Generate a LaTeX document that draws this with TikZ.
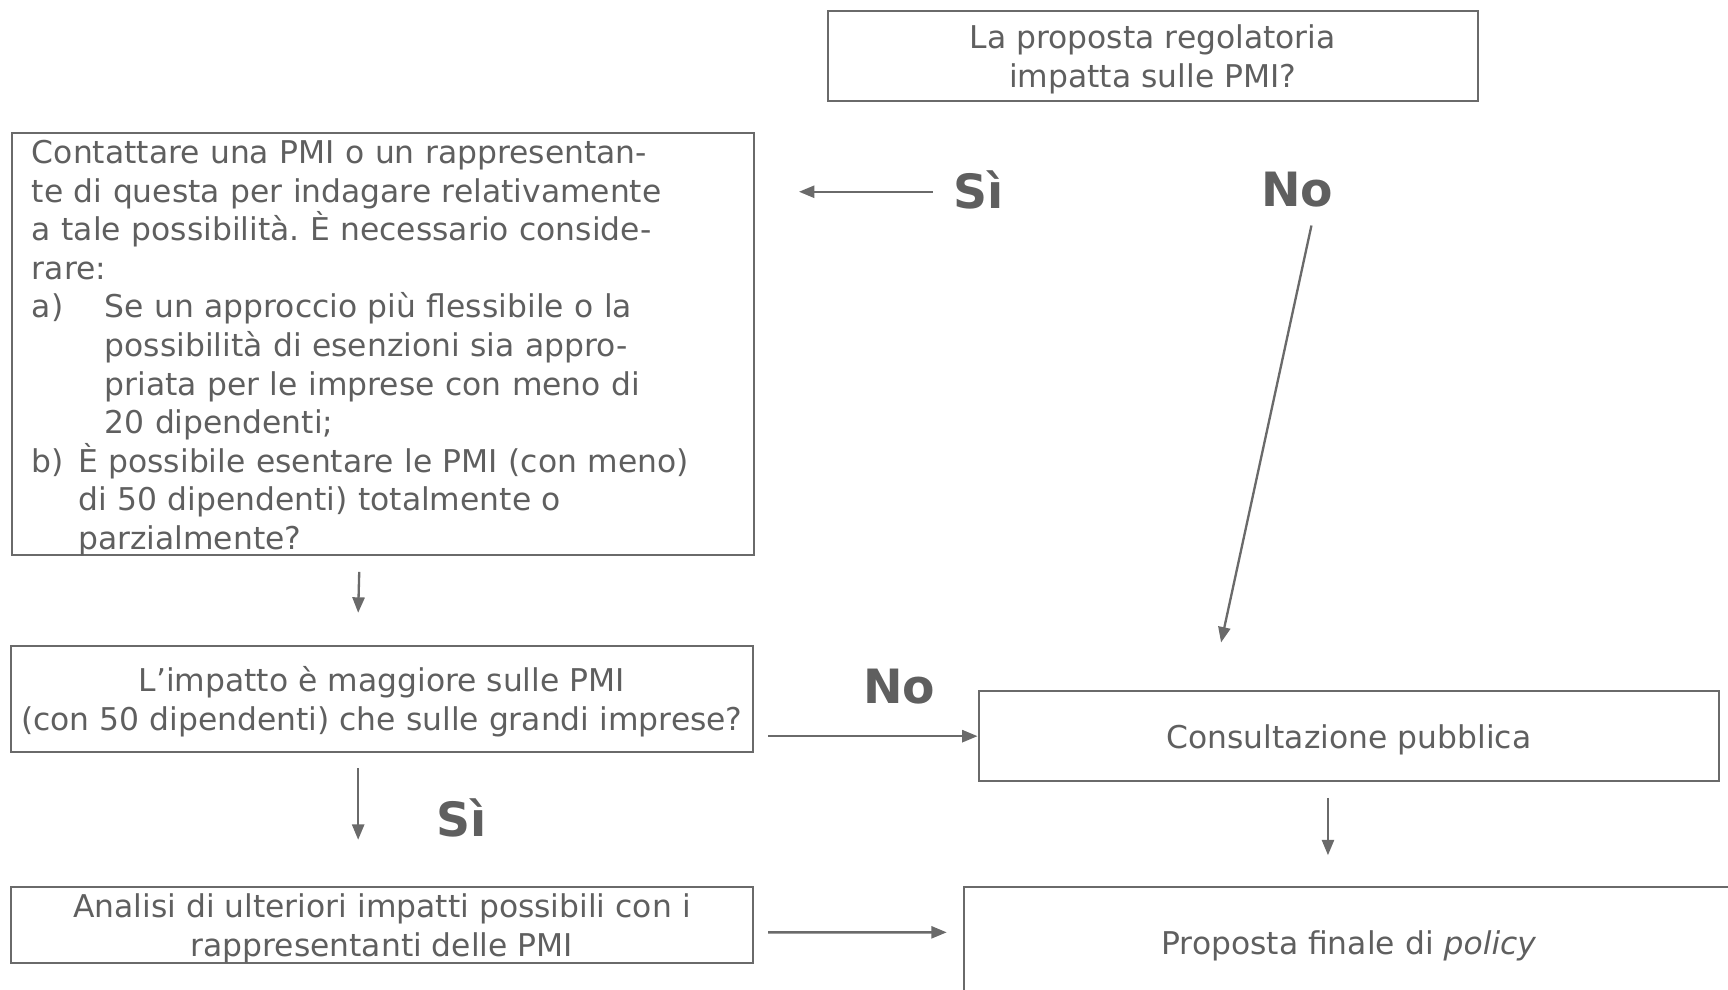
\documentclass[tikz,border=0pt]{standalone}
\usepackage{fontspec}
\setmainfont{DejaVu Sans}
\usepackage{xcolor}
\usetikzlibrary{arrows.meta,calc}
\definecolor{boxgray}{HTML}{6A6A6A}
\definecolor{txtgray}{HTML}{5F5F5F}
\frenchspacing

\begin{document}
\begin{tikzpicture}[
    box/.style={draw=boxgray, line width=0.55pt, text=txtgray, inner sep=0pt,
        font=\fontsize{8.1}{9.96}\selectfont, align=center},
    flat/.style={box, text depth=0pt},
    answer/.style={text=txtgray, inner sep=0pt, font=\fontsize{12.2}{14}\selectfont\bfseries},
    arr/.style={draw=boxgray, line width=0.6pt, -{Triangle[length=1.4mm,width=1.1mm]}}
]
    \useasboundingbox (0,0) rectangle (15.68,-8.98);

    % Boxes
    \node[flat, minimum width=5.90cm, minimum height=0.82cm] (regola) at (10.46,-0.51)
        {La proposta regolatoria\\impatta sulle PMI?};
    \node[box, anchor=north west, minimum width=6.73cm, minimum height=3.83cm,
        text width=6.37cm, text depth=99.3pt, inner xsep=0.18cm, align=left] (contatto) at (0.10,-1.20)
        {Contattare una PMI o un rappresentan-\\
         te di questa per indagare relativamente\\
         a tale possibilità. È necessario conside-\\
         rare:\\
         \makebox[0.66cm][l]{a)}Se un approccio più flessibile o la\\
         \hspace*{0.66cm}possibilità di esenzioni sia appro-\\
         \hspace*{0.66cm}priata per le imprese con meno di\\
         \hspace*{0.66cm}20 dipendenti;\\
         \makebox[0.42cm][l]{b)}È possibile esentare le PMI (con meno)\\
         \hspace*{0.42cm}di 50 dipendenti) totalmente o\\
         \hspace*{0.42cm}parzialmente?};
    \node[flat, minimum width=6.73cm, minimum height=0.96cm] (impatto) at (3.465,-6.34)
        {L’impatto è maggiore sulle PMI\\(con 50 dipendenti) che sulle grandi imprese?};
    \node[flat, minimum width=6.73cm, minimum height=0.69cm] (analisi) at (3.465,-8.395)
        {Analisi di ulteriori impatti possibili con i\\rappresentanti delle PMI};
    \node[flat, minimum width=6.72cm, minimum height=0.82cm] (consulta) at (12.24,-6.68)
        {Consultazione pubblica};
    \node[flat, minimum width=6.98cm, minimum height=1.00cm] (finale) at (12.24,-8.55)
        {Proposta finale di \textit{policy}};

    % Answers
    \node[answer] (si1) at (8.88,-1.72) {Sì};
    \node[answer] (no1) at (11.77,-1.72) {No};
    \node[answer] (no2) at (8.16,-6.23) {No};
    \node[answer] (si2) at (4.19,-7.42) {Sì};

    % Arrows
    \coordinate (siend) at (7.25,-1.74);
    \coordinate (noend) at (11.08,-5.83);
    \draw[arr] ([xshift=-0.18cm, yshift=-0.02cm]si1.west) -- (siend);
    \draw[arr] ([xshift=0.13cm, yshift=-0.16cm]no1.south) -- (noend);
    \draw[arr] ([xshift=-0.215cm, yshift=-0.14cm]contatto.south) -- ([xshift=-0.215cm, yshift=0.29cm]impatto.north);
    \draw[arr] ($(impatto.east |- consulta.west)+(0.13,0)$) -- (consulta.west);
    \draw[arr] ([xshift=-0.215cm, yshift=-0.14cm]impatto.south) -- ([xshift=-0.215cm, yshift=0.42cm]analisi.north);
    \draw[arr] ([xshift=-0.19cm, yshift=-0.14cm]consulta.south) -- ([xshift=-0.19cm, yshift=0.28cm]finale.north);
    \draw[arr] ([xshift=0.13cm, yshift=-0.065cm]analisi.east) -- ([xshift=-0.15cm, yshift=0.09cm]finale.west);
\end{tikzpicture}
\end{document}
